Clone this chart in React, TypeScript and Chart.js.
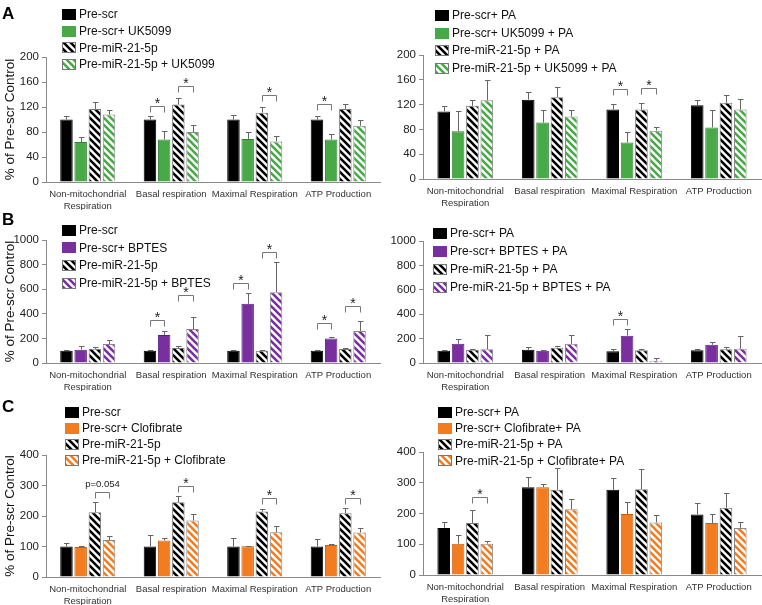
import React, { useEffect, useRef } from "react";
import { Chart, registerables } from "chart.js";
Chart.register(...registerables);

const FIG_W = 762;
const FIG_H = 605;
const FONT = "'Liberation Sans', Arial, Helvetica, sans-serif";

const GREEN = "#48a947";
const PURPLE = "#7a2f9f";
const ORANGE = "#f47c20";

const categories = [["Non-mitochondrial", "Respiration"], "Basal respiration", "Maximal Respiration", "ATP Production"];

// ---- Panel A ----
const aTicks = [0, 40, 80, 120, 160, 200];
const aLeftLabels = ["Pre-scr", "Pre-scr+ UK5099", "Pre-miR-21-5p", "Pre-miR-21-5p + UK5099"];
const aLeftMeans = [
  [100, 100, 100, 100],
  [64, 68, 69, 68],
  [117, 124, 111, 117],
  [108, 80, 65, 90],
];
const aLeftErrs = [
  [6, 6, 8, 5],
  [8, 14, 11, 9],
  [11, 10, 9, 8],
  [8, 11, 9, 10],
];
const aLeftBrackets = [
  [1, 0, 1, 122, "*"],
  [1, 2, 3, 153, "*"],
  [2, 2, 3, 140, "*"],
  [3, 0, 1, 125, "*"],
];
const aRightLabels = ["Pre-scr+ PA", "Pre-scr+ UK5099 + PA", "Pre-miR-21-5p + PA", "Pre-miR-21-5p + UK5099 + PA"];
const aRightMeans = [
  [109, 128, 112, 119],
  [77, 91, 59, 83],
  [118, 132, 112, 123],
  [127, 101, 78, 112],
];
const aRightErrs = [
  [8, 12, 9, 9],
  [32, 21, 17, 29],
  [10, 16, 11, 13],
  [33, 10, 6, 17],
];
const aRightBrackets = [
  [2, 0, 1, 145, "*"],
  [2, 2, 3, 147, "*"],
];

// ---- Panel B ----
const bTicks = [0, 200, 400, 600, 800, 1000];
const bLeftLabels = ["Pre-scr", "Pre-scr+ BPTES", "Pre-miR-21-5p", "Pre-miR-21-5p + BPTES"];
const bLeftMeans = [
  [100, 100, 100, 100],
  [108, 227, 481, 200],
  [115, 122, 100, 114],
  [154, 276, 576, 260],
];
const bLeftErrs = [
  [5, 5, 8, 4],
  [33, 30, 87, 14],
  [15, 14, 8, 8],
  [35, 97, 246, 80],
];
const bLeftBrackets = [
  [1, 0, 1, 351, "*"],
  [1, 2, 3, 549, "*"],
  [2, 0, 1, 654, "*"],
  [2, 2, 3, 905, "*"],
  [3, 0, 1, 324, "*"],
  [3, 2, 3, 460, "*"],
];
const bRightLabels = ["Pre-scr+ PA", "Pre-scr+ BPTES + PA", "Pre-miR-21-5p + PA", "Pre-miR-21-5p + BPTES + PA"];
const bRightMeans = [
  [100, 109, 96, 104],
  [158, 101, 224, 150],
  [109, 126, 104, 112],
  [112, 158, 19, 117],
];
const bRightErrs = [
  [9, 22, 21, 13],
  [41, 8, 57, 19],
  [8, 16, 13, 19],
  [120, 74, 25, 102],
];
const bRightBrackets = [[2, 0, 1, 358, "*"]];

// ---- Panel C ----
const cTicks = [0, 100, 200, 300, 400];
const cLeftLabels = ["Pre-scr", "Pre-scr+ Clofibrate", "Pre-miR-21-5p", "Pre-miR-21-5p + Clofibrate"];
const cLeftMeans = [
  [100, 100, 100, 100],
  [98, 120, 101, 105],
  [212, 245, 215, 209],
  [121, 185, 147, 146],
];
const cLeftErrs = [
  [10, 37, 28, 23],
  [5, 7, 2, 2],
  [33, 20, 7, 16],
  [12, 23, 20, 15],
];
const cLeftBrackets = [
  [0, 2, 3, 280, "p=0.054"],
  [1, 2, 3, 300, "*"],
  [2, 2, 3, 260, "*"],
  [3, 2, 3, 260, "*"],
];
const cRightLabels = ["Pre-scr+ PA", "Pre-scr+ Clofibrate+ PA", "Pre-miR-21-5p + PA", "Pre-miR-21-5p + Clofibrate+ PA"];
const cRightMeans = [
  [153, 285, 277, 197],
  [102, 285, 198, 169],
  [169, 277, 279, 219],
  [102, 214, 171, 153],
];
const cRightErrs = [
  [18, 35, 38, 38],
  [29, 12, 38, 31],
  [41, 71, 65, 49],
  [10, 34, 23, 19],
];
const cRightBrackets = [[0, 2, 3, 255, "*"]];

type PanelCfg = {
  key: string;
  labels: string[];
  means: number[][];
  errs: number[][];
  brackets: (number | string)[][];
  ticks: number[];
  color: string;
  border: string;
  area: { l: number; r: number; t: number; b: number };
  legend: { x: number; y: number; dy: number };
  letter?: { t: string; y: number };
  yTitle?: boolean;
};

const panels: PanelCfg[] = [
  { key: "aL", labels: aLeftLabels, means: aLeftMeans, errs: aLeftErrs, brackets: aLeftBrackets, ticks: aTicks, color: GREEN, border: "#2f7f32",
    area: { l: 46, r: 380, t: 57, b: 182 }, legend: { x: 62, y: 14.5, dy: 16.7 }, letter: { t: "A", y: 19 }, yTitle: true },
  { key: "aR", labels: aRightLabels, means: aRightMeans, errs: aRightErrs, brackets: aRightBrackets, ticks: aTicks, color: GREEN, border: "#2f7f32",
    area: { l: 423, r: 761, t: 55, b: 179 }, legend: { x: 435, y: 15.5, dy: 17.5 } },
  { key: "bL", labels: bLeftLabels, means: bLeftMeans, errs: bLeftErrs, brackets: bLeftBrackets, ticks: bTicks, color: PURPLE, border: "#55207a",
    area: { l: 46, r: 380, t: 240, b: 363 }, legend: { x: 62, y: 230, dy: 17.8 }, letter: { t: "B", y: 225 }, yTitle: true },
  { key: "bR", labels: bRightLabels, means: bRightMeans, errs: bRightErrs, brackets: bRightBrackets, ticks: bTicks, color: PURPLE, border: "#55207a",
    area: { l: 423, r: 761, t: 241, b: 363 }, legend: { x: 433, y: 233, dy: 18 } },
  { key: "cL", labels: cLeftLabels, means: cLeftMeans, errs: cLeftErrs, brackets: cLeftBrackets, ticks: cTicks, color: ORANGE, border: "#c25c10",
    area: { l: 46, r: 380, t: 455, b: 577 }, legend: { x: 65, y: 412, dy: 16.2 }, letter: { t: "C", y: 412 }, yTitle: true },
  { key: "cR", labels: cRightLabels, means: cRightMeans, errs: cRightErrs, brackets: cRightBrackets, ticks: cTicks, color: ORANGE, border: "#c25c10",
    area: { l: 423, r: 761, t: 452, b: 575 }, legend: { x: 438, y: 412, dy: 16.3 } },
];

const YW = 40;
const XH = 28;

function makeHatch(color: string): CanvasPattern {
  const s = 7;
  const c = document.createElement("canvas");
  c.width = s;
  c.height = s;
  const g = c.getContext("2d")!;
  g.fillStyle = "#ffffff";
  g.fillRect(0, 0, s, s);
  g.strokeStyle = color;
  g.lineWidth = 2.6;
  g.beginPath();
  for (const k of [-s, 0, s]) {
    g.moveTo(k - 1, -1);
    g.lineTo(k + s + 1, s + 1);
  }
  g.stroke();
  return g.createPattern(c, "repeat")!;
}

function Panel({ p }: { p: PanelCfg }) {
  const ref = useRef<HTMLCanvasElement>(null);
  useEffect(() => {
    const canvas = ref.current!;
    const fills: any[] = ["#000000", p.color, makeHatch("#000000"), makeHatch(p.color)];
    const borders = ["#000000", p.border, "#777777", "#888888"];
    const { l, r, t, b } = p.area;

    const overlay = {
      id: "overlay" + p.key,
      afterDatasetsDraw(chart: any) {
        const ctx = chart.ctx as CanvasRenderingContext2D;
        const ys = chart.scales.y;
        ctx.save();
        ctx.strokeStyle = "#666666";
        ctx.lineWidth = 1;
        p.means.forEach((vals, di) => {
          const meta = chart.getDatasetMeta(di);
          vals.forEach((v, ci) => {
            const el = meta.data[ci];
            const x = Math.round(el.x) + 0.5;
            const y0 = ys.getPixelForValue(v);
            const y1 = Math.round(ys.getPixelForValue(v + p.errs[di][ci])) + 0.5;
            ctx.beginPath();
            ctx.moveTo(x, y0);
            ctx.lineTo(x, y1);
            ctx.moveTo(x - 2.5, y1);
            ctx.lineTo(x + 3, y1);
            ctx.stroke();
          });
        });
        p.brackets.forEach((br) => {
          const [ci, s1, s2, level, label] = br as [number, number, number, number, string];
          const x1 = Math.round(chart.getDatasetMeta(s1).data[ci].x) + 0.5;
          const x2 = Math.round(chart.getDatasetMeta(s2).data[ci].x) + 0.5;
          const y = Math.round(ys.getPixelForValue(level)) + 0.5;
          ctx.strokeStyle = "#777777";
          ctx.beginPath();
          ctx.moveTo(x1, y + 6);
          ctx.lineTo(x1, y);
          ctx.lineTo(x2, y);
          ctx.lineTo(x2, y + 6);
          ctx.stroke();
          ctx.fillStyle = "#222222";
          ctx.textAlign = "center";
          ctx.textBaseline = "alphabetic";
          if (label === "*") {
            ctx.font = `14px ${FONT}`;
            ctx.fillText(label, (x1 + x2) / 2, y + 1.5);
          } else {
            ctx.font = `9.5px ${FONT}`;
            ctx.fillText(label, (x1 + x2) / 2, y - 6);
          }
        });
        ctx.restore();
      },
      afterDraw(chart: any) {
        const ctx = chart.ctx as CanvasRenderingContext2D;
        ctx.save();
        p.labels.forEach((lab, i) => {
          const cy = p.legend.y + i * p.legend.dy;
          const bx = p.legend.x;
          ctx.fillStyle = fills[i];
          ctx.fillRect(bx, Math.round(cy - 5.5), 14, 11);
          if (i >= 2) {
            ctx.strokeStyle = "#777777";
            ctx.lineWidth = 1;
            ctx.strokeRect(bx + 0.5, Math.round(cy - 5.5) + 0.5, 13, 10);
          }
          ctx.fillStyle = "#111111";
          ctx.font = `12px ${FONT}`;
          ctx.textAlign = "left";
          ctx.textBaseline = "middle";
          ctx.fillText(lab, bx + 17, cy + 0.5);
        });
        if (p.letter) {
          ctx.fillStyle = "#000000";
          ctx.font = `bold 17px ${FONT}`;
          ctx.textAlign = "left";
          ctx.textBaseline = "alphabetic";
          ctx.fillText(p.letter.t, 2, p.letter.y);
        }
        if (p.yTitle) {
          ctx.translate(10, (t + b) / 2);
          ctx.rotate(-Math.PI / 2);
          ctx.fillStyle = "#111111";
          ctx.font = `13.5px ${FONT}`;
          ctx.textAlign = "center";
          ctx.textBaseline = "middle";
          ctx.fillText("% of Pre-scr Control", 0, 0);
        }
        ctx.restore();
      },
    };

    const chart = new Chart(canvas, {
      type: "bar",
      data: {
        labels: categories as any,
        datasets: p.means.map((vals, i) => ({
          label: p.labels[i],
          data: vals,
          backgroundColor: fills[i],
          borderColor: borders[i],
          borderWidth: 1,
          barPercentage: 0.88,
          categoryPercentage: 0.68,
        })),
      },
      options: {
        responsive: false,
        animation: false,
        devicePixelRatio: 1,
        events: [],
        layout: {
          padding: { left: l - YW, top: t, right: FIG_W - r, bottom: FIG_H - b - XH },
        },
        plugins: {
          legend: { display: false },
          tooltip: { enabled: false },
          title: { display: false },
        },
        scales: {
          x: {
            grid: { display: false, drawTicks: false },
            border: { display: true, color: "#8a8a8a", width: 1 },
            ticks: {
              font: { family: FONT, size: 9.5 },
              color: "#333333",
              padding: 7,
              maxRotation: 0,
              autoSkip: false,
            },
            afterFit: (s: any) => {
              s.height = XH;
            },
          },
          y: {
            min: p.ticks[0],
            max: p.ticks[p.ticks.length - 1],
            ticks: {
              stepSize: p.ticks[1] - p.ticks[0],
              font: { family: FONT, size: 11.5 },
              color: "#222222",
              padding: 3,
              callback: (v: any) => String(v),
            },
            grid: { drawOnChartArea: false, drawTicks: true, tickLength: 4, color: "#8a8a8a" },
            border: { display: true, color: "#8a8a8a", width: 1 },
            afterFit: (s: any) => {
              s.width = YW;
            },
          },
        },
      } as any,
      plugins: [overlay],
    });
    return () => chart.destroy();
  }, []);
  return (
    <canvas
      ref={ref}
      width={FIG_W}
      height={FIG_H}
      style={{ position: "absolute", left: 0, top: 0, width: FIG_W, height: FIG_H }}
    />
  );
}

export default function App() {
  return (
    <div style={{ position: "absolute", left: 0, top: 0, width: FIG_W, height: FIG_H, background: "#ffffff" }}>
      {panels.map((p) => (
        <Panel key={p.key} p={p} />
      ))}
    </div>
  );
}
